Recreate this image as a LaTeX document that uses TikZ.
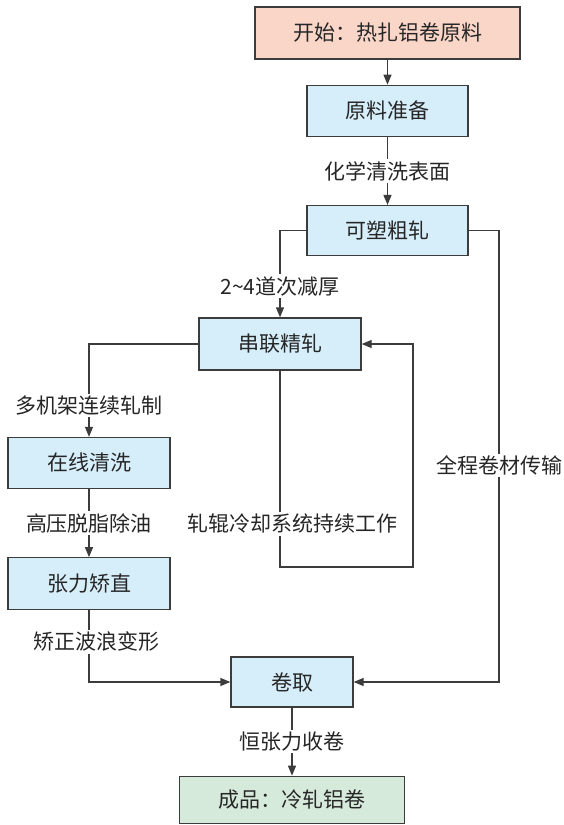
\documentclass[tikz,border=0pt]{standalone}
\usepackage{fontspec}
\newfontfamily\cjk{Noto Sans CJK SC}
\usepackage{xcolor}
\definecolor{startred}{RGB}{250,214,200}
\definecolor{stepblue}{RGB}{214,238,250}
\definecolor{endgreen}{RGB}{214,234,219}
\definecolor{linegray}{RGB}{60,60,60}
\usepackage{tikz}
\usetikzlibrary{arrows.meta, positioning, calc}

\begin{document}
\begin{tikzpicture}[x=1pt, y=-1pt,
    font=\cjk\fontsize{21}{24}\selectfont,
    box/.style={rectangle, draw=linegray, line width=1.3pt, fill=stepblue,
      minimum width=161pt, minimum height=51pt, inner sep=0pt, text=black!85},
    arrow/.style={line width=1.3pt, draw=linegray, -{Triangle[length=10pt, width=8pt]}},
    lab/.style={fill=white, inner sep=2pt, text=black!85}
]
\useasboundingbox (0,0) rectangle (564,825);
\node[box, fill=startred, minimum width=265pt, minimum height=52pt] (start) at (387.5,33) {开始：热扎铝卷原料};
\node[box, below=25pt of start] (prep) {原料准备};
\node[box, below=68pt of prep, minimum height=50pt] (rough) {可塑粗轧};
\node[box, minimum width=162pt, minimum height=52pt] (tandem) at (280,344) {串联精轧};
\node[box, minimum width=162pt] (clean) at (89,463) {在线清洗};
\node[box, minimum width=162pt, minimum height=52pt, below=68pt of clean] (level) {张力矫直};
\node[box, minimum width=122pt, minimum height=50pt] (coil) at (292,682) {卷取};
\node[box, fill=endgreen, minimum width=225pt, minimum height=47pt, below=68pt of coil] (final) {成品：冷轧铝卷};
\coordinate (cool) at (413,567);
\coordinate (side) at (499,682);

\draw[arrow] (start) -- (prep);
\draw[arrow] (prep) -- node[lab]{化学清洗表面} (rough);
\draw[arrow] (rough.west) -| node[lab, pos=0.82]{2\textasciitilde4道次减厚} (tandem.north);
\draw[arrow] (tandem.west) -| node[lab, pos=0.83]{多机架连续轧制} (clean.north);
\draw[arrow] (tandem.south) |- node[lab, pos=0.39, xshift=12pt]{轧辊冷却系统持续工作} (cool) |- (tandem.east);
\draw[arrow] (clean) -- node[lab]{高压脱脂除油} (level);
\draw[arrow] (level.south) |- node[lab, pos=0.22, xshift=8pt]{矫正波浪变形} (coil.west);
\draw[arrow] (rough.east) -| node[lab, pos=0.76]{全程卷材传输} (side) -- (coil.east);
\draw[arrow] (coil) -- node[lab]{恒张力收卷} (final);
\end{tikzpicture}
\end{document}
